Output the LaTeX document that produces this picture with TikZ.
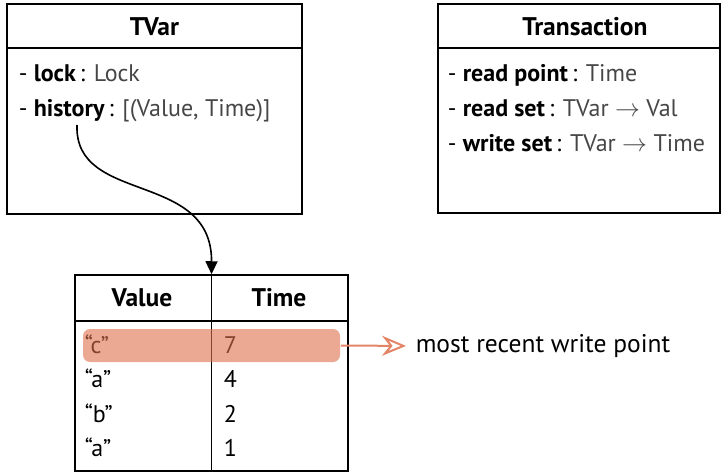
\documentclass[tikz,border=0pt]{standalone}
\usepackage{fontspec}
\setmainfont{PT Sans}
\usetikzlibrary{arrows.meta, positioning}
\definecolor{TypeColor}{RGB}{70, 70, 70}
\definecolor{MarkColor}{RGB}{222, 110, 75}
\newcommand{\typename}[1]{\textcolor{TypeColor}{#1}}

\begin{document}
\begin{tikzpicture}[
    x=1pt, y=-1pt,
    >=Stealth,
    line width=1.5pt,
    every node/.style={font=\fontsize{24}{28}\selectfont},
    classbox/.style={draw, rectangle, inner sep=0pt}, % Outer frame of a class
    title/.style={font=\fontsize{25.5}{28}\selectfont\bfseries},
    field/.style={anchor=base west, inner sep=0pt},
    cell/.style={anchor=base west, inner sep=0pt}
]
\useasboundingbox (0,0) rectangle (722,473);

% --- TVar class ---
\node[classbox, minimum width=295pt, minimum height=210pt] (tvar) at (154.5,109) {};
\draw (tvar.west |- 0,48) -- (tvar.east |- 0,48);
\node[title] (tvartitle) at (154.5,27) {TVar};
\node[field] (lock) at (18,82) {- \textbf{lock}\,: \typename{Lock}};
\node[field] (history) at (18,117) {- \textbf{history}\,: \typename{[(Value, Time)]}};
\coordinate (histfoot) at (77,125);

% --- Transaction class ---
\node[classbox, minimum width=282pt, minimum height=209pt] (trans) at (579,108.5) {};
\draw (trans.west |- 0,48) -- (trans.east |- 0,48);
\node[title] (transtitle) at (585,27) {Transaction};
\node[field] (readpoint) at (447,82) {- \textbf{read point}\,: \typename{Time}};
\node[field] (readset) at (447,117) {- \textbf{read set}\,: \typename{TVar $\rightarrow$ Val}};
\node[field] (writeset) at (447,152) {- \textbf{write set}\,: \typename{TVar $\rightarrow$ Time}};

% --- History table ---
\node[classbox, minimum width=273pt, minimum height=196pt] (table) at (211.5,373) {};
\draw (table.west |- 0,321) -- (table.east |- 0,321);
\draw (table.north) -- (table.south);
\node[title] (valuehead) at (142,298) {Value};
\node[title] (timehead) at (279,298) {Time};

% rows, newest first
\foreach \val/\t [count=\r from 0] in {c/7, a/4, b/2, a/1}
{
    \node[cell] (val\r) at (84,353+34.5*\r) {“\val”};
    \node[cell] (time\r) at (223,353+34.5*\r) {\t};
}

% --- Highlight on the newest entry ---
\node[fill=MarkColor, fill opacity=0.6, rounded corners=7pt, inner sep=0pt,
      minimum width=257pt, minimum height=33pt] (latest) at (211.5,345.5) {};
\node[anchor=west, inner sep=0pt, font=\fontsize{25.5}{28}\selectfont] (note) at (415,346) {most recent write point};
\draw[MarkColor!85, line width=2pt, shorten >=9pt, arrows={-Stealth[open, length=24pt, width=20pt, inset=8pt]}]
    (latest.east) -- (note.west);

% --- Pointer from the history field into the table ---
\draw[-{Triangle[length=13pt, width=12pt]}, line width=1.6pt]
    (histfoot) .. controls (74,205) and (212,170) .. (table.north);

\end{tikzpicture}
\end{document}
